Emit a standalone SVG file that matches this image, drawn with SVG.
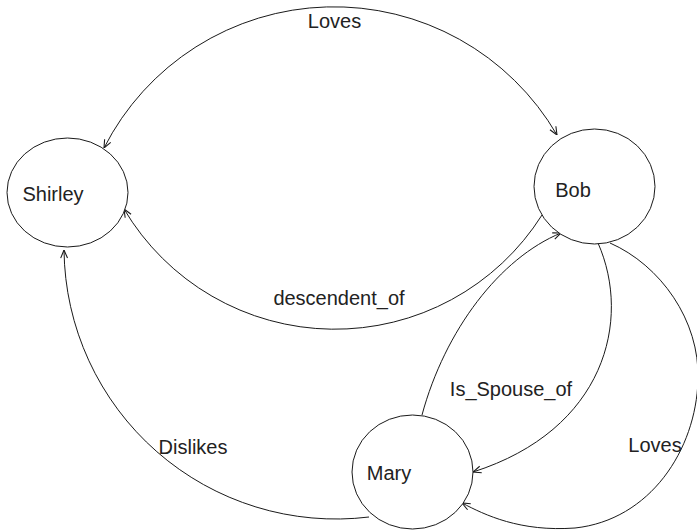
<svg xmlns="http://www.w3.org/2000/svg" width="697" height="530" viewBox="0 0 697 530">
  <style>
    .node { fill: #ffffff; stroke: #1a1a1a; stroke-width: 1; }
    .edge { fill: none; stroke: #1a1a1a; stroke-width: 1; }
    text { font-family: "Liberation Sans", Arial, sans-serif; font-size: 20px; fill: #222222; text-anchor: middle; }
  </style>
  <defs>
    <marker id="arrow" markerUnits="userSpaceOnUse" viewBox="0 0 10 10" refX="10" refY="5" markerWidth="9" markerHeight="9" orient="auto-start-reverse">
      <path d="M1,1.2 L10,5 L1,8.8" fill="none" stroke="#1a1a1a" stroke-width="1.2"/>
    </marker>
  </defs>

  <rect width="697" height="530" fill="#ffffff"/>

  <g id="edges">
    <!-- Loves (both directions) between Shirley and Bob -->
    <path class="edge" d="M104,148 A258,258 0 0 1 557,135" marker-start="url(#arrow)" marker-end="url(#arrow)"/>
    <!-- descendent_of: Bob to Shirley -->
    <path class="edge" d="M542,215 A245,245 0 0 1 124,209" marker-end="url(#arrow)"/>
    <!-- Dislikes: Mary to Shirley -->
    <path class="edge" d="M369,517 A272,272 0 0 1 64,250" marker-end="url(#arrow)"/>
    <!-- Is_Spouse_of: Mary to Bob -->
    <path class="edge" d="M422,415 C445,330 500,258 561,233" marker-end="url(#arrow)"/>
    <!-- Is_Spouse_of: Bob to Mary -->
    <path class="edge" d="M598,243 C632,320 605,430 473,472" marker-end="url(#arrow)"/>
    <!-- Loves: Bob to Mary -->
    <path class="edge" d="M610,243 C660,265 700,320 698,380 C696,450 650,520 575,528 C520,532 485,515 462,503" marker-end="url(#arrow)"/>
  </g>

  <g id="node-shirley">
    <ellipse class="node" cx="67.5" cy="192.5" rx="60.5" ry="54.5"/>
    <text x="53" y="201">Shirley</text>
  </g>
  <g id="node-bob">
    <ellipse class="node" cx="594.5" cy="186.5" rx="60.5" ry="57.5"/>
    <text x="573" y="197">Bob</text>
  </g>
  <g id="node-mary">
    <ellipse class="node" cx="412.5" cy="472" rx="60.5" ry="57"/>
    <text x="389" y="480">Mary</text>
  </g>

  <g id="edge-labels">
    <text x="334.5" y="28">Loves</text>
    <text x="339" y="305">descendent_of</text>
    <text x="511" y="396">Is_Spouse_of</text>
    <text x="193" y="454">Dislikes</text>
    <text x="655" y="452">Loves</text>
  </g>
</svg>
